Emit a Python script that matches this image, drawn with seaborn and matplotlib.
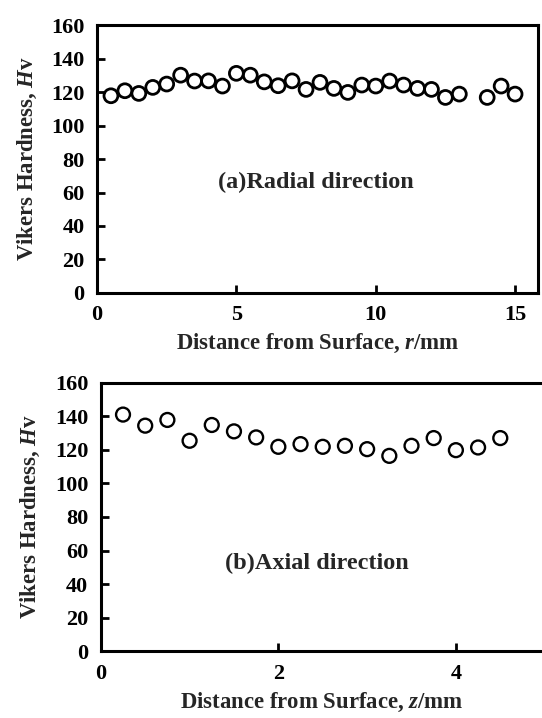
import matplotlib
matplotlib.use("Agg")
import matplotlib.pyplot as plt
import seaborn as sns
import pandas as pd

# (a) radial direction
r_mm = [0.5, 1.0, 1.5, 2.0, 2.5, 3.0, 3.5, 4.0, 4.5, 5.0, 5.5, 6.0, 6.5, 7.0, 7.5,
        8.0, 8.5, 9.0, 9.5, 10.0, 10.5, 11.0, 11.5, 12.0, 12.5, 13.0, 14.0, 14.5, 15.0]
hv_radial = [117.8, 120.8, 119.2, 122.8, 124.8, 130.1, 126.6, 126.7, 123.6, 131.2,
             130.1, 126.1, 123.8, 126.7, 121.6, 125.8, 122.2, 119.8, 124.2, 123.6,
             126.6, 124.2, 122.2, 121.6, 116.8, 118.8, 116.8, 123.6, 118.8]

# (b) axial direction
z_mm = [0.25, 0.5, 0.75, 1.0, 1.25, 1.5, 1.75, 2.0, 2.25, 2.5, 2.75, 3.0, 3.25,
        3.5, 3.75, 4.0, 4.25, 4.5]
hv_axial = [141.0, 134.4, 137.8, 125.4, 134.8, 131.0, 127.4, 121.8, 123.4, 121.8,
            122.4, 120.4, 116.4, 122.4, 127.0, 119.8, 121.4, 127.0]

radial = pd.DataFrame({"r": r_mm, "hv": hv_radial})
axial = pd.DataFrame({"z": z_mm, "hv": hv_axial})

sns.set_style("ticks")
plt.rcParams["font.family"] = ["Liberation Serif", "DejaVu Serif"]
plt.rcParams["font.weight"] = "bold"
plt.rcParams["mathtext.fontset"] = "custom"
plt.rcParams["mathtext.rm"] = "Liberation Serif:bold"
plt.rcParams["mathtext.it"] = "Liberation Serif:italic:bold"

fs_tick = 16
fs_lab = 16.4
fs_txt = 17.5
fig = plt.figure(figsize=(5.42, 7.18), dpi=100)
ax1 = fig.add_axes([0.179, 0.592, 0.814, 0.373])
ax2 = fig.add_axes([0.186, 0.093, 0.814, 0.374])


def style(ax):
    for s in ax.spines.values():
        s.set_linewidth(2.2)
        s.set_color("black")
    ax.tick_params(direction="in", length=6, width=2, colors="black",
                   labelsize=fs_tick, pad=9)
    ax.set_ylim(0, 160)
    ax.set_yticks(range(0, 161, 20))
    for lab in ax.get_xticklabels() + ax.get_yticklabels():
        lab.set_fontweight("bold")


sns.scatterplot(data=radial, x="r", y="hv", ax=ax1, s=100, marker="o",
                facecolor="none", edgecolor="black", linewidth=2.0)
ax1.set_xlim(0, 15.83)
ax1.set_xticks([0, 5, 10, 15])
style(ax1)
ax1.set_xlabel(r"Distance from Surface, $\mathit{r}$/mm", fontsize=fs_lab,
               fontweight="bold", labelpad=5)
ax1.set_ylabel(r"Vikers Hardness, $\mathit{H}$v", fontsize=fs_lab,
               fontweight="bold", labelpad=9)
ax1.text(7.85, 66, "(a)Radial direction", fontsize=fs_txt, fontweight="bold",
         ha="center", va="center")

sns.scatterplot(data=axial, x="z", y="hv", ax=ax2, s=100, marker="o",
                facecolor="none", edgecolor="black", linewidth=1.7)
ax2.set_xlim(0, 4.97)
ax2.set_xticks([0, 2, 4])
style(ax2)
ax2.spines["right"].set_visible(False)
ax2.set_xlabel(r"Distance from Surface, $\mathit{z}$/mm", fontsize=fs_lab,
               fontweight="bold", labelpad=5)
ax2.set_ylabel(r"Vikers Hardness, $\mathit{H}$v", fontsize=fs_lab,
               fontweight="bold", labelpad=9)
ax2.text(2.43, 52, "(b)Axial direction", fontsize=fs_txt, fontweight="bold",
         ha="center", va="center")

fig.savefig("out.png", dpi=100)
